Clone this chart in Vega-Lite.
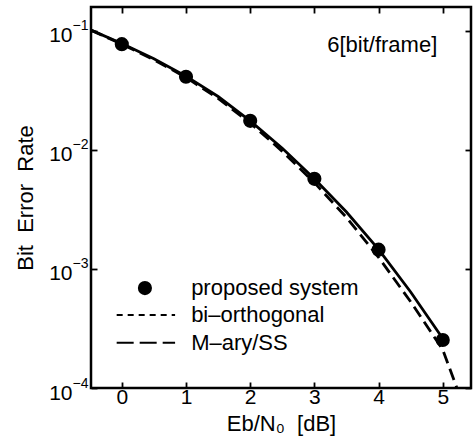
{
  "$schema": "https://vega.github.io/schema/vega-lite/v6.json",
  "width": 380,
  "height": 381,
  "autosize": {"type": "none"},
  "padding": {"left": 91, "top": 7, "right": 3, "bottom": 55},
  "background": "white",
  "config": {
    "view": {"stroke": "black", "strokeWidth": 2.5},
    "font": "Liberation Sans",
    "axis": {
      "grid": false, "domain": false, "labelFont": "Liberation Sans", "labelFontSize": 21,
      "labelColor": "black", "titleFont": "Liberation Sans", "titleFontSize": 22,
      "titleFontWeight": "normal", "titleColor": "black", "tickColor": "black",
      "tickWidth": 1.8, "tickSize": -6, "labelFlush": false, "labelOverlap": false
    }
  },
  "datasets": {
    "pts": [
      {"x": 0, "ber": 0.077}, {"x": 1, "ber": 0.041}, {"x": 2, "ber": 0.0175},
      {"x": 3, "ber": 0.0057}, {"x": 4, "ber": 0.00145}, {"x": 5, "ber": 0.000253}
    ],
    "bi": [
      {"x": -0.48, "ber": 0.101}, {"x": 0, "ber": 0.078}, {"x": 0.5, "ber": 0.058},
      {"x": 1, "ber": 0.0415}, {"x": 1.5, "ber": 0.028}, {"x": 2, "ber": 0.0175},
      {"x": 2.5, "ber": 0.0103}, {"x": 3, "ber": 0.0057}, {"x": 3.5, "ber": 0.0030},
      {"x": 4, "ber": 0.00146}, {"x": 4.5, "ber": 0.00064}, {"x": 5, "ber": 0.00026}
    ],
    "mary": [
      {"x": -0.48, "ber": 0.101}, {"x": 0, "ber": 0.077}, {"x": 0.5, "ber": 0.057},
      {"x": 1, "ber": 0.0405}, {"x": 1.5, "ber": 0.027}, {"x": 2, "ber": 0.0168},
      {"x": 2.5, "ber": 0.0097}, {"x": 3, "ber": 0.0053}, {"x": 3.5, "ber": 0.0027},
      {"x": 4, "ber": 0.00125}, {"x": 4.5, "ber": 0.00053}, {"x": 5, "ber": 0.00021},
      {"x": 5.22, "ber": 0.0001}, {"x": 5.3, "ber": 0.00008}
    ],
    "legpt": [{"x": 0.36, "y": 0.00069, "label": "proposed system", "tx": 1.08}],
    "legline": [
      {"x": -0.08, "x2": 0.83, "y": 0.00041, "label": "bi\u2013orthogonal", "tx": 1.08},
      {"x": -0.08, "x2": 0.83, "y": 0.00024, "label": "M\u2013ary/SS", "tx": 1.08}
    ],
    "note": [{"x": 3.2, "y": 0.076, "label": "6[bit/frame]"}]
  },
  "resolve": {"axis": {"x": "independent", "y": "independent"}},
  "layer": [
    {
      "data": {"name": "bi"},
      "mark": {"type": "line", "color": "black", "strokeWidth": 2.8, "clip": true},
      "encoding": {
        "x": {"field": "x", "type": "quantitative",
              "scale": {"domain": [-0.48, 5.44], "nice": false, "zero": false},
              "axis": {"values": [0, 1, 2, 3, 4, 5], "title": "Eb/N\u2080\u00a0\u00a0[dB]", "labelPadding": 4, "titlePadding": 6}},
        "y": {"field": "ber", "type": "quantitative",
              "scale": {"type": "log", "domain": [0.0001, 0.158], "nice": false},
              "axis": {"values": [0.0001, 0.001, 0.01, 0.1], "title": "Bit\u00a0\u00a0Error\u00a0\u00a0Rate", "titlePadding": 11,
                       "labelPadding": 25, "labelOffset": 5, "labelExpr": "'10'"}}
      }
    },
    {
      "data": {"name": "mary"},
      "mark": {"type": "line", "color": "black", "strokeWidth": 2.8, "strokeDash": [12, 6], "clip": true},
      "encoding": {
        "x": {"field": "x", "type": "quantitative", "scale": {"domain": [-0.48, 5.44], "nice": false, "zero": false},
              "axis": {"orient": "top", "values": [0, 1, 2, 3, 4, 5], "labels": false, "title": null}},
        "y": {"field": "ber", "type": "quantitative", "scale": {"type": "log", "domain": [0.0001, 0.158], "nice": false},
              "axis": {"orient": "right", "values": [0.0001, 0.001, 0.01, 0.1], "labels": false, "title": null}}
      }
    },
    {
      "data": {"name": "pts"},
      "mark": {"type": "point", "filled": true, "color": "black", "size": 200, "opacity": 1},
      "encoding": {
        "x": {"field": "x", "type": "quantitative", "axis": null},
        "y": {"field": "ber", "type": "quantitative",
              "axis": {"values": [0.0001, 0.001, 0.01, 0.1], "title": null, "ticks": false, "labelPadding": 3,
                       "labelFontSize": 14, "labelOffset": -5,
                       "labelExpr": "datum.value >= 0.09 ? '\u22121' : datum.value >= 0.009 ? '\u22122' : datum.value >= 0.0009 ? '\u22123' : '\u22124'"}}
      }
    },
    {
      "data": {"name": "legpt"},
      "layer": [
        {"mark": {"type": "point", "filled": true, "color": "black", "size": 200, "opacity": 1},
         "encoding": {"x": {"field": "x", "type": "quantitative", "axis": null},
                      "y": {"field": "y", "type": "quantitative", "axis": null}}},
        {"mark": {"type": "text", "align": "left", "baseline": "middle", "fontSize": 22, "color": "black"},
         "encoding": {"x": {"field": "tx", "type": "quantitative", "axis": null},
                      "y": {"field": "y", "type": "quantitative", "axis": null},
                      "text": {"field": "label"}}}
      ]
    },
    {
      "data": {"name": "legline"},
      "transform": [{"filter": "datum.label == 'bi\u2013orthogonal'"}],
      "mark": {"type": "rule", "color": "black", "strokeWidth": 2, "strokeDash": [6, 5]},
      "encoding": {"x": {"field": "x", "type": "quantitative", "axis": null}, "x2": {"field": "x2"},
                   "y": {"field": "y", "type": "quantitative", "axis": null}}
    },
    {
      "data": {"name": "legline"},
      "transform": [{"filter": "datum.label != 'bi\u2013orthogonal'"}],
      "mark": {"type": "rule", "color": "black", "strokeWidth": 2, "strokeDash": [17, 6]},
      "encoding": {"x": {"field": "x", "type": "quantitative", "axis": null}, "x2": {"field": "x2"},
                   "y": {"field": "y", "type": "quantitative", "axis": null}}
    },
    {
      "data": {"name": "legline"},
      "mark": {"type": "text", "align": "left", "baseline": "middle", "fontSize": 22, "color": "black"},
      "encoding": {"x": {"field": "tx", "type": "quantitative", "axis": null},
                   "y": {"field": "y", "type": "quantitative", "axis": null},
                   "text": {"field": "label"}}
    },
    {
      "data": {"name": "note"},
      "mark": {"type": "text", "align": "left", "baseline": "middle", "fontSize": 22, "color": "black"},
      "encoding": {"x": {"field": "x", "type": "quantitative", "axis": null},
                   "y": {"field": "y", "type": "quantitative", "axis": null},
                   "text": {"field": "label"}}
    }
  ]
}
